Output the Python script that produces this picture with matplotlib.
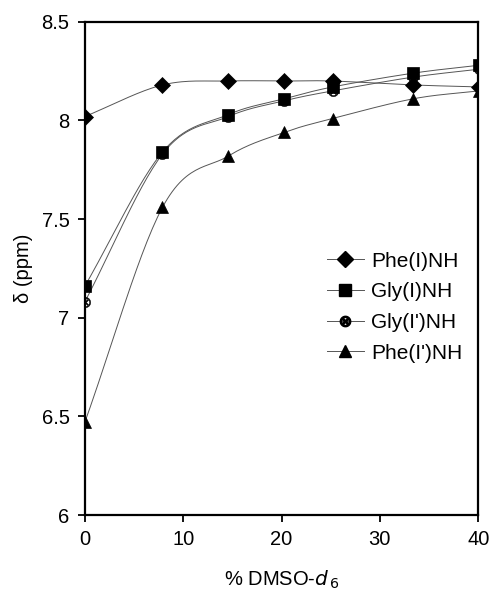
import numpy as np
import matplotlib.pyplot as plt

plt.rcParams['font.family'] = ['Liberation Sans', 'DejaVu Sans']

# % DMSO-d6
dmso = [0, 7.9, 14.6, 20.3, 25.2, 33.4, 40.1]

# chemical shifts (ppm)
phe_I = [8.02, 8.18, 8.20, 8.20, 8.20, 8.18, 8.17]
gly_I = [7.16, 7.84, 8.03, 8.11, 8.17, 8.24, 8.28]
gly_Ip = [7.08, 7.83, 8.02, 8.10, 8.15, 8.22, 8.26]
phe_Ip = [6.47, 7.56, 7.82, 7.94, 8.01, 8.11, 8.15]

labels = ["Phe(I)NH", "Gly(I)NH", "Gly(I')NH", "Phe(I')NH"]
series = [phe_I, gly_I, gly_Ip, phe_Ip]
markers = ['D', 's', r'$\otimes$', '^']
msizes = [8, 8.5, 7.5, 9]


def smooth(x, y, n=30):
    # Catmull-Rom curve through the points (like Excel's smoothed line)
    x = np.asarray(x, float)
    y = np.asarray(y, float)
    px = np.concatenate([[2 * x[0] - x[1]], x, [2 * x[-1] - x[-2]]])
    py = np.concatenate([[2 * y[0] - y[1]], y, [2 * y[-1] - y[-2]]])
    xs, ys = [], []
    t = np.linspace(0, 1, n)
    for i in range(1, len(px) - 2):
        for p, out in ((px, xs), (py, ys)):
            p0, p1, p2, p3 = p[i - 1], p[i], p[i + 1], p[i + 2]
            out.append(0.5 * ((2 * p1) + (-p0 + p2) * t
                              + (2 * p0 - 5 * p1 + 4 * p2 - p3) * t ** 2
                              + (-p0 + 3 * p1 - 3 * p2 + p3) * t ** 3))
    return np.concatenate(xs), np.concatenate(ys)


fig = plt.figure(figsize=(4.93, 5.9), dpi=100)
ax = fig.add_axes([0.172, 0.127, 0.798, 0.836])

for y, lab, m, ms in zip(series, labels, markers, msizes):
    sx, sy = smooth(dmso, y)
    ax.plot(sx, sy, color='#555555', lw=0.7, zorder=2)
    ax.plot(dmso, y, linestyle='none', marker=m, markersize=ms,
            color='black', markeredgewidth=0.5 if m != markers[2] else 0.3, zorder=3)
    ax.plot([], [], color='#555555', lw=0.7, marker=m, markersize=ms,
            markerfacecolor='black', markeredgecolor='black', label=lab)

ax.set_xlim(0, 40)
ax.set_ylim(6, 8.5)
ax.set_xticks([0, 10, 20, 30, 40])
ax.set_yticks([6, 6.5, 7, 7.5, 8, 8.5])
ax.set_yticklabels(['6', '6.5', '7', '7.5', '8', '8.5'])
ax.tick_params(labelsize=14.5, direction='out', length=5, width=1.3, pad=6)
for s in ax.spines.values():
    s.set_linewidth(1.6)

ax.set_xlabel('% DMSO-$\\it{d}$$_{\\,6}$', fontsize=14.5, labelpad=14)
ax.set_ylabel('δ (ppm)', fontsize=14.5, labelpad=6)

ax.legend(loc='upper left', bbox_to_anchor=(0.616, 0.534), frameon=False,
          borderpad=0, borderaxespad=0, fontsize=15, handlelength=1.75,
          handletextpad=0.35, labelspacing=0.56)

fig.savefig('out.png', dpi=100)
